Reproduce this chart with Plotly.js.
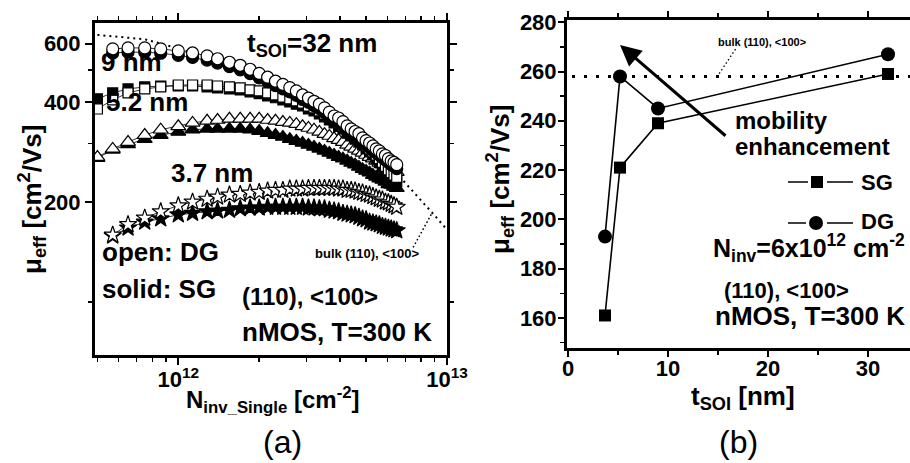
<!DOCTYPE html>
<html>
<head>
<meta charset="utf-8">
<script src="https://cdn.plot.ly/plotly-3.0.1.min.js"></script>
<style>html,body{margin:0;padding:0;background:#fff;}#chart{width:910px;height:463px;}</style>
</head>
<body>
<div id="chart"></div>
<script>
// ---------- Panel (a): mobility vs N_inv_Single (listed in units of 1e12 cm^-2) ----------
const nInv = [0.50,0.57,0.65,0.75,0.86,1.00,1.13,1.28,1.40,1.55,1.70,1.85,2.00,2.15,2.30,2.45,2.60,2.75,2.90,3.05,3.20,3.35,3.50,3.65,3.80,3.95,4.10,4.25,4.40,4.55,4.70,4.85,5.00,5.15,5.30,5.45,5.60,5.75,5.90,6.05,6.20,6.35,6.50];

const mu32DG = [null,578,582,582,578,570,562,551,540,527,516,502,488,475,462,452,442,432,420,411,402,394,384,373,363,358,349,339,332,326,321,312,306,301,295,289,285,279,276,270,266,263,259];
const mu32SG = [null,562,565,565,561,553,545,535,524,511,500,487,473,461,448,438,429,419,407,399,390,382,372,362,352,347,339,329,322,316,309,303,297,292,286,281,277,272,268,263,259,256,252];
const mu9DG  = [381,406,426,438,444,450,450,450,447,444,441,435,432,426,420,414,409,403,397,389,384,376,368,361,353,346,338,330,322,316,309,303,295,289,283,277,270,263,256,250,245,241,237];
const mu9SG  = [409,426,438,444,447,447,447,444,441,438,435,429,424,417,412,406,400,394,389,381,376,368,361,353,346,338,332,322,316,309,303,297,289,283,277,270,263,256,249,243,238,234,230];
const mu52DG = [273,289,303,318,330,338,346,351,353,356,356,356,356,353,351,348,346,343,338,334,330,325,320,316,311,307,303,297,293,289,285,281,277,273,270,266,262,259,257,253,251,248,246];
const mu52SG = [271,287,298,309,318,325,330,332,332,332,332,330,327,322,318,314,309,305,301,297,293,289,285,281,277,273,270,266,262,259,255,251,248,245,241,238,235,233,230,226,225,222,220];
const mu37DG = [null,159,171,179,187,195,200,204,207,210,211,213,214,216,217,217,219,219,219,220,220,220,220,220,220,219,219,217,217,216,214,213,211,210,208,206,204,203,200,199,197,195,193];
const mu37SG = [null,158,167,174,178,183,185,187,188,189,191,192,192,193,193,193,193,193,193,192,192,191,191,189,188,187,185,184,183,182,180,178,177,174,173,172,171,169,168,167,166,165,164];

const bulkN  = [0.5,0.75,1.0,1.5,2.0,3.0,4.0,5.0,6.0,7.0,8.0,9.0,10.0];
const bulkMu = [637,618,580,525,480,406,350,299,262,228,203,182,165];
const leaderAN  = [7.48,8.79];
const leaderAMu = [146,185];

// ---------- Panel (b): mobility vs t_SOI at N_inv = 6e12 ----------
const tSOI = [3.7,5.2,9,32];
const muSG = [161,221,239,259];
const muDG = [193,258,245,267];
const bulkLineT  = [0.4,35];
const bulkLineMu = [258,258];
const leaderBT  = [14.9,16.9];
const leaderBMu = [257.8,270];

// tick labels (x of panel a in units of 1e12)
const xTickValsA = [1,10];
const xTickTextA = ['10<sup>12</sup>','10<sup>13</sup>'];
const xMinorA = [0.5,0.6,0.7,0.8,0.9,2,3,4,5,6,7,8,9];
const yTickValsA = [200,400,600];
const yMinorA = [100,300,500];

const E12 = v => v == null ? null : v * 1e12;
const FONT = 'Liberation Sans, Arial, sans-serif';
const px = x => x / 910;
const py = y => 1 - y / 463;

function serA(mu, sym, filled, size, name) {
  return {
    x: nInv.map(E12), y: mu, xaxis: 'x', yaxis: 'y', type: 'scatter', mode: 'lines+markers',
    name: name, showlegend: false, connectgaps: false,
    line: {color: '#000', width: 0.8},
    marker: {symbol: sym, size: size, color: filled ? '#000' : '#fff', line: {color: '#000', width: 1.2}}
  };
}

const traces = [
  {x: bulkN.map(E12), y: bulkMu, xaxis: 'x', yaxis: 'y', mode: 'lines', showlegend: false,
   line: {color: '#000', width: 2, dash: '2px,4px'}},
  {x: leaderAN.map(E12), y: leaderAMu, xaxis: 'x', yaxis: 'y', mode: 'lines', showlegend: false,
   line: {color: '#000', width: 1.5, dash: '1.5px,2.5px'}},
  serA(mu37SG, 'star', true, 13, '3.7 nm SG'),
  serA(mu37DG, 'star', false, 13, '3.7 nm DG'),
  serA(mu52SG, 'triangle-up', true, 13, '5.2 nm SG'),
  serA(mu52DG, 'triangle-up', false, 13, '5.2 nm DG'),
  serA(mu9SG, 'square', true, 10, '9 nm SG'),
  serA(mu9DG, 'square', false, 10, '9 nm DG'),
  serA(mu32SG, 'circle', true, 12, '32 nm SG'),
  serA(mu32DG, 'circle', false, 12, '32 nm DG'),
  // panel b
  {x: bulkLineT, y: bulkLineMu, xaxis: 'x2', yaxis: 'y2', mode: 'lines', showlegend: false,
   line: {color: '#000', width: 3, dash: '3px,9px'}},
  {x: leaderBT, y: leaderBMu, xaxis: 'x2', yaxis: 'y2', mode: 'lines', showlegend: false,
   line: {color: '#000', width: 1.3, dash: '1.5px,2.5px'}},
  {x: tSOI, y: muSG, xaxis: 'x2', yaxis: 'y2', mode: 'lines+markers', name: 'SG', showlegend: false,
   line: {color: '#000', width: 1.6}, marker: {symbol: 'square', size: 12, color: '#000'}},
  {x: tSOI, y: muDG, xaxis: 'x2', yaxis: 'y2', mode: 'lines+markers', name: 'DG', showlegend: false,
   line: {color: '#000', width: 1.6}, marker: {symbol: 'circle', size: 14, color: '#000'}}
];

const tickFont = {family: FONT, size: 22, color: '#000', weight: 'bold'};
const axBase = {showline: true, linecolor: '#000', linewidth: 3, showgrid: false, zeroline: false,
  ticks: 'outside', tickcolor: '#000', tickwidth: 2, ticklen: 6, tickfont: tickFont};

function ann(text, x, y, size, o) {
  return Object.assign({text: text, x: px(x), y: py(y), xref: 'paper', yref: 'paper', showarrow: false,
    xanchor: 'center', yanchor: 'middle', font: {family: FONT, size: size, color: '#000', weight: 'bold'}}, o || {});
}

const annotations = [
  ann('t<sub>SOI</sub>=32 nm', 312, 44, 26),
  ann('9 nm', 131, 62, 26),
  ann('5.2 nm', 147, 102, 26),
  ann('3.7 nm', 212, 173, 26),
  ann('open: DG', 100, 252, 26, {xanchor: 'left'}),
  ann('solid: SG', 100, 289, 26, {xanchor: 'left'}),
  ann('(110), &lt;100&gt;', 240, 296, 24, {xanchor: 'left'}),
  ann('nMOS, T=300 K', 240, 332, 26, {xanchor: 'left'}),
  ann('bulk (110), &lt;100&gt;', 367, 253, 13),
  ann('N<sub>inv_Single</sub> [cm<sup>-2</sup>]', 273, 400, 24),
  ann('μ<sub>eff</sub> [cm<sup>2</sup>/Vs]', 32, 200, 26, {textangle: -90}),
  ann('(a)', 282, 442, 32, {font: {family: FONT, size: 32, color: '#000'}}),
  // panel b
  ann('bulk (110), &lt;100&gt;', 762, 42, 11),
  ann('mobility', 733, 121, 24, {xanchor: 'left'}),
  ann('enhancement', 733, 146, 24, {xanchor: 'left'}),
  ann('SG', 859, 182, 22, {xanchor: 'left'}),
  ann('DG', 859, 222, 22, {xanchor: 'left'}),
  ann('N<sub>inv</sub>=6x10<sup>12</sup> cm<sup>-2</sup>', 907, 248, 25, {xanchor: 'right'}),
  ann('(110), &lt;100&gt;', 786, 290, 22),
  ann('nMOS, T=300 K', 907, 316, 26, {xanchor: 'right'}),
  ann('t<sub>SOI</sub> [nm]', 743, 397, 26),
  ann('μ<sub>eff</sub> [cm<sup>2</sup>/Vs]', 500, 180, 26, {textangle: -90}),
  ann('(b)', 738, 442, 32, {font: {family: FONT, size: 32, color: '#000'}}),
  // arrow
  {x: 5.2, y: 270.8, ax: 15.9, ay: 233.4, xref: 'x2', yref: 'y2', axref: 'x2', ayref: 'y2', text: '',
   showarrow: true, arrowhead: 2, arrowsize: 1.4, arrowwidth: 3, arrowcolor: '#000'}
];

const shapes = [
  {type: 'line', xref: 'paper', yref: 'paper', x0: px(788), x1: px(808), y0: py(182), y1: py(182), line: {color: '#000', width: 1.5}},
  {type: 'line', xref: 'paper', yref: 'paper', x0: px(827), x1: px(853), y0: py(182), y1: py(182), line: {color: '#000', width: 1.5}},
  {type: 'rect', xref: 'paper', yref: 'paper', x0: px(811), x1: px(823), y0: py(188), y1: py(176), fillcolor: '#000', line: {width: 0}},
  {type: 'line', xref: 'paper', yref: 'paper', x0: px(788), x1: px(806), y0: py(223), y1: py(223), line: {color: '#000', width: 1.5}},
  {type: 'line', xref: 'paper', yref: 'paper', x0: px(827), x1: px(853), y0: py(223), y1: py(223), line: {color: '#000', width: 1.5}},
  {type: 'circle', xref: 'paper', yref: 'paper', x0: px(809), x1: px(823), y0: py(230), y1: py(216), fillcolor: '#000', line: {width: 0}}
];

const layout = {
  width: 910, height: 463,
  margin: {l: 0, r: 0, t: 0, b: 0},
  paper_bgcolor: '#fff', plot_bgcolor: 'rgba(0,0,0,0)',
  showlegend: false,
  font: {family: FONT, color: '#000'},
  xaxis: Object.assign({}, axBase, {
    type: 'log', domain: [px(95), px(447)], range: [11.69, 13], anchor: 'y',
    tickvals: xTickValsA.map(E12), ticktext: xTickTextA, mirror: 'allticks', ticklen: 7,
    ticklabelstandoff: -4,
    minor: {tickvals: xMinorA.map(E12), ticks: 'outside', ticklen: 4, tickwidth: 1.5, tickcolor: '#000'}
  }),
  yaxis: Object.assign({}, axBase, {
    type: 'log', domain: [py(355), py(23)], range: [1.84, 2.84], anchor: 'x',
    tickvals: yTickValsA, ticktext: yTickValsA.map(String), mirror: 'allticks', ticklen: 7,
    minor: {tickvals: yMinorA, ticks: 'outside', ticklen: 4, tickwidth: 1.5, tickcolor: '#000'}
  }),
  xaxis2: Object.assign({}, axBase, {
    domain: [px(567), 1], range: [-0.1, 34.2], anchor: 'y2', tick0: 0, dtick: 10, mirror: 'allticks',
    ticklabelstandoff: -7,
    minor: {dtick: 5, ticks: 'outside', ticklen: 4, tickwidth: 1.5, tickcolor: '#000'}
  }),
  yaxis2: Object.assign({}, axBase, {
    domain: [py(348), py(20)], range: [147.8, 280.9], anchor: 'x2', tick0: 0, dtick: 20,
    ticklabelstandoff: -3,
    minor: {dtick: 10, ticks: 'outside', ticklen: 4, tickwidth: 1.5, tickcolor: '#000'}
  }),
  annotations: annotations,
  shapes: shapes
};

Plotly.newPlot('chart', traces, layout, {displayModeBar: false, staticPlot: true});
</script>
</body>
</html>
